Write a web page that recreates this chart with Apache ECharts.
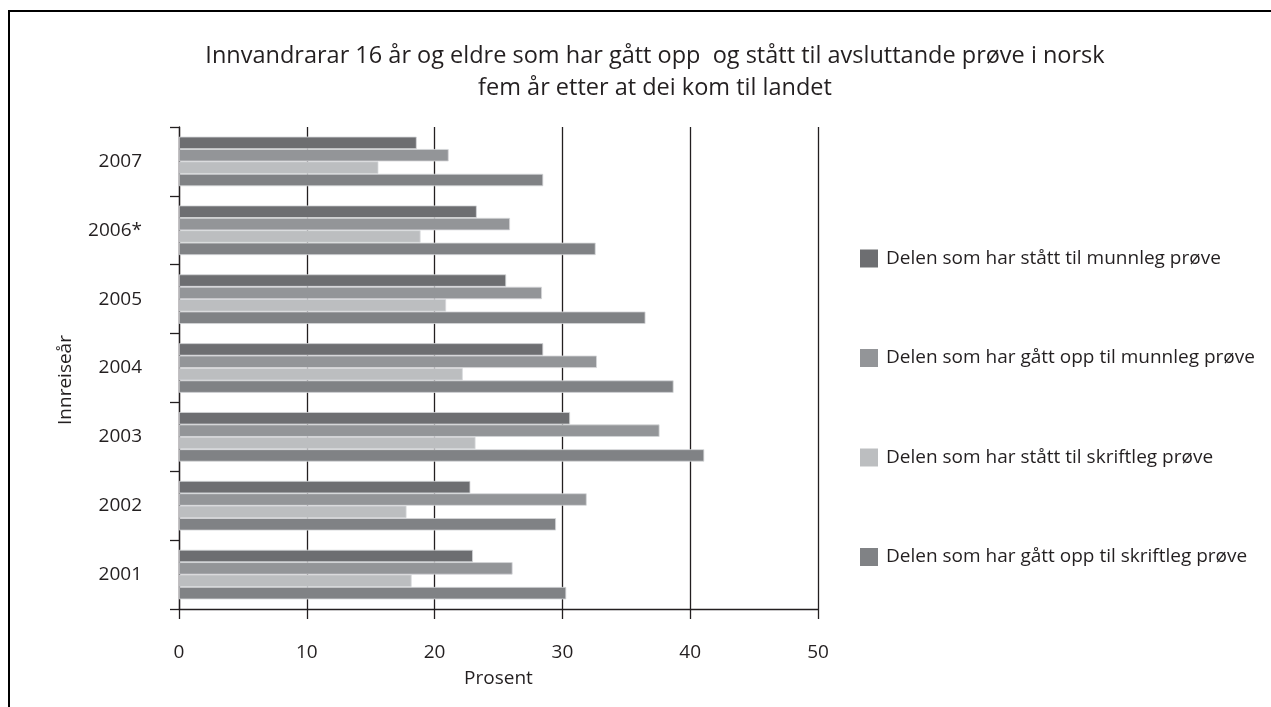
<!DOCTYPE html>
<html>
<head>
<meta charset="utf-8">
<script src="https://cdn.jsdelivr.net/npm/echarts@6/dist/echarts.min.js"></script>
<style>
  html, body { margin: 0; padding: 0; background: #fff; }
  #chart { width: 1271px; height: 707px; }
</style>
</head>
<body>
<div id="chart"></div>
<script>
(function() {
  var myChart = echarts.init(document.getElementById('chart'));

  // data (prosent)
  var years = ['2007', '2006*', '2005', '2004', '2003', '2002', '2001'];
  var seriesNames = [
    'Delen som har stått til munnleg prøve',
    'Delen som har gått opp til munnleg prøve',
    'Delen som har stått til skriftleg prøve',
    'Delen som har gått opp til skriftleg prøve'
  ];
  var staattMunnleg = [18.6, 23.3, 25.6, 28.5, 30.6, 22.8, 23.0];
  var gaattMunnleg = [21.1, 25.9, 28.4, 32.7, 37.6, 31.9, 26.1];
  var staattSkriftleg = [15.6, 18.9, 20.9, 22.2, 23.2, 17.8, 18.2];
  var gaattSkriftleg = [28.5, 32.6, 36.5, 38.7, 41.1, 29.5, 30.3];
  var xTicks = [0, 10, 20, 30, 40, 50];

  var colors = ['#6d6e71', '#939598', '#bcbec0', '#808285'];
  var values = [staattMunnleg, gaattMunnleg, staattSkriftleg, gaattSkriftleg];
  var ink = '#231f20';
  var font = 'Open Sans';

  var seriesList = [];
  values.forEach(function (vals, i) {
    seriesList.push({
      type: 'bar',
      name: seriesNames[i],
      data: vals,
      barGap: '0%',
      barCategoryGap: '28%',
      itemStyle: { color: colors[i], borderColor: '#d6d7d9', borderWidth: 0.8 },
      emphasis: { disabled: true }
    });
  });

  var option = {
    animation: false,
    textStyle: { fontFamily: font, color: ink },
    title: {
      text: 'Innvandrarar 16 år og eldre som har gått opp  og stått til avsluttande prøve i norsk\nfem år etter at dei kom til landet',
      left: 650,
      top: 35,
      textAlign: 'center',
      textStyle: { fontFamily: font, fontSize: 23.5, fontWeight: 'normal', color: ink, lineHeight: 32 }
    },
    legend: {
      orient: 'vertical',
      left: 860,
      top: 249,
      padding: 0,
      itemWidth: 18,
      itemHeight: 18,
      itemGap: 80.5,
      icon: 'rect',
      selectedMode: false,
      itemStyle: { borderWidth: 0 },
      textStyle: { fontFamily: font, fontSize: 19, color: ink, lineHeight: 18, padding: [0, 0, 0, 3] },
      data: seriesNames
    },
    grid: {
      left: 179,
      top: 127,
      width: 639,
      height: 482,
      containLabel: false
    },
    xAxis: {
      type: 'value',
      min: 0,
      max: 50,
      interval: 10,
      name: 'Prosent',
      nameLocation: 'middle',
      nameGap: 60,
      nameTextStyle: { fontFamily: font, fontSize: 19, color: ink },
      axisLine: { show: true, lineStyle: { color: ink, width: 1.3 } },
      axisTick: { show: true, length: 10, lineStyle: { color: ink, width: 1.3 } },
      axisLabel: {
        fontFamily: font, fontSize: 19, color: ink, margin: 34,
        formatter: function (v) { return xTicks.indexOf(v) >= 0 ? String(v) : ''; }
      },
      splitLine: { show: true, lineStyle: { color: ink, width: 1.3 } }
    },
    yAxis: {
      type: 'category',
      data: years,
      inverse: true,
      name: 'Innreiseår',
      nameLocation: 'middle',
      nameGap: 104,
      nameRotate: 90,
      nameTextStyle: { fontFamily: font, fontSize: 19, color: ink, padding: [0, 24, 0, 0] },
      axisLine: { show: true, lineStyle: { color: ink, width: 1.3 } },
      axisTick: { show: true, length: 9, lineStyle: { color: ink, width: 1.3 } },
      axisLabel: { fontFamily: font, fontSize: 19, color: ink, margin: 37 },
      splitLine: { show: false }
    },
    graphic: [{
      type: 'rect',
      shape: { x: 9, y: 11, width: 1400, height: 900 },
      style: { fill: 'none', stroke: '#000', lineWidth: 2 },
      silent: true
    }],
    series: seriesList
  };

  myChart.setOption(option);
})();
</script>
</body>
</html>
